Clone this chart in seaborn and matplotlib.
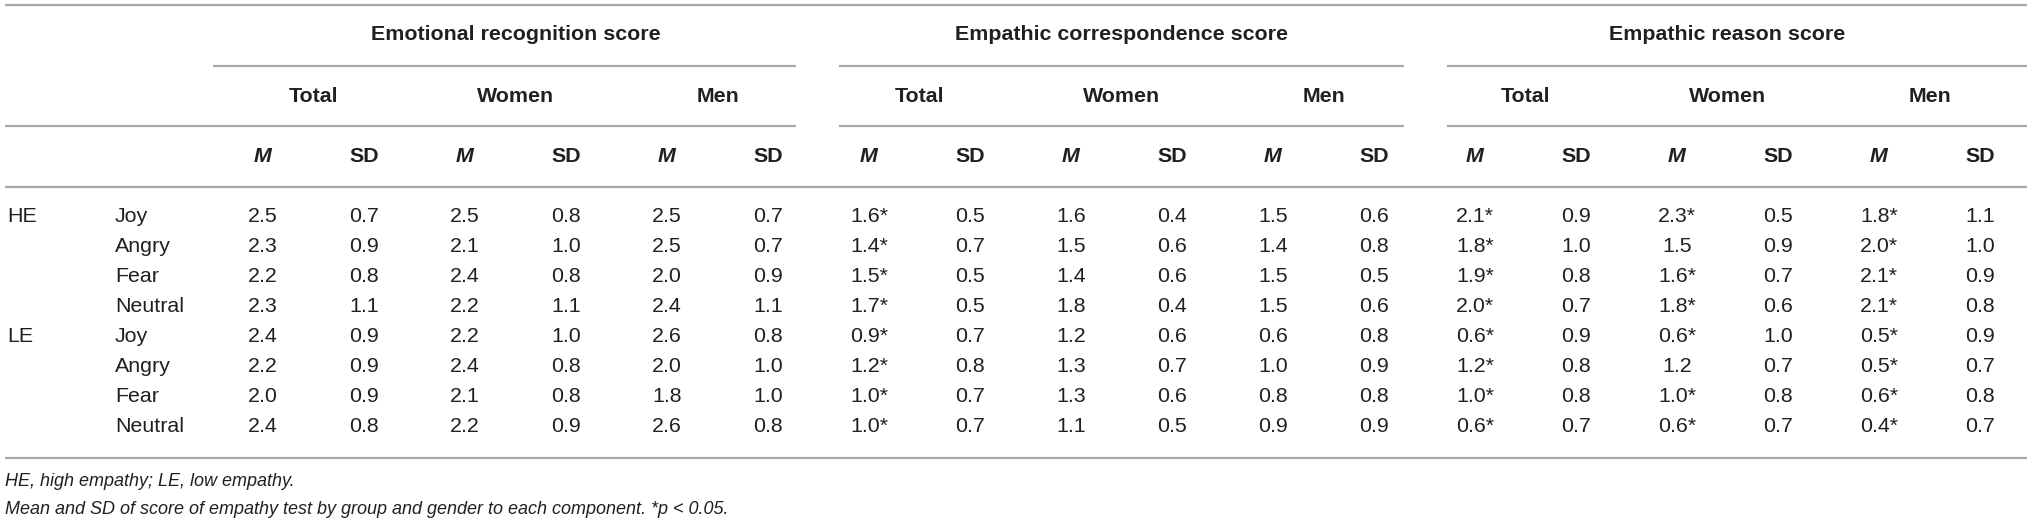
import numpy as np
import pandas as pd
import matplotlib.pyplot as plt
import seaborn as sns
from matplotlib.colors import ListedColormap

# CONFIG
sns.set_theme(style="white")
plt.rcParams["font.family"] = ["Liberation Sans", "DejaVu Sans"]
TXT = "#231f20"
LINE = "#a7a9ac"
FS = 15.4

# DATA
components = ["Emotional recognition score", "Empathic correspondence score", "Empathic reason score"]
genders = ["Total", "Women", "Men"]
stats = ["M", "SD"]
groups = ["HE", "LE"]
emotions = ["Joy", "Angry", "Fear", "Neutral"]

# columns: Total M, Total SD, Women M, Women SD, Men M, Men SD
recognition = [
    [2.5, 0.7, 2.5, 0.8, 2.5, 0.7],
    [2.3, 0.9, 2.1, 1.0, 2.5, 0.7],
    [2.2, 0.8, 2.4, 0.8, 2.0, 0.9],
    [2.3, 1.1, 2.2, 1.1, 2.4, 1.1],
    [2.4, 0.9, 2.2, 1.0, 2.6, 0.8],
    [2.2, 0.9, 2.4, 0.8, 2.0, 1.0],
    [2.0, 0.9, 2.1, 0.8, 1.8, 1.0],
    [2.4, 0.8, 2.2, 0.9, 2.6, 0.8],
]
correspondence = [
    [1.6, 0.5, 1.6, 0.4, 1.5, 0.6],
    [1.4, 0.7, 1.5, 0.6, 1.4, 0.8],
    [1.5, 0.5, 1.4, 0.6, 1.5, 0.5],
    [1.7, 0.5, 1.8, 0.4, 1.5, 0.6],
    [0.9, 0.7, 1.2, 0.6, 0.6, 0.8],
    [1.2, 0.8, 1.3, 0.7, 1.0, 0.9],
    [1.0, 0.7, 1.3, 0.6, 0.8, 0.8],
    [1.0, 0.7, 1.1, 0.5, 0.9, 0.9],
]
reason = [
    [2.1, 0.9, 2.3, 0.5, 1.8, 1.1],
    [1.8, 1.0, 1.5, 0.9, 2.0, 1.0],
    [1.9, 0.8, 1.6, 0.7, 2.1, 0.9],
    [2.0, 0.7, 1.8, 0.6, 2.1, 0.8],
    [0.6, 0.9, 0.6, 1.0, 0.5, 0.9],
    [1.2, 0.8, 1.2, 0.7, 0.5, 0.7],
    [1.0, 0.8, 1.0, 0.8, 0.6, 0.8],
    [0.6, 0.7, 0.6, 0.7, 0.4, 0.7],
]
# significance (*p < 0.05) flags for the M columns (Total, Women, Men)
recognition_sig = [[0, 0, 0]] * 8
correspondence_sig = [[1, 0, 0]] * 8
reason_sig = [
    [1, 1, 1], [1, 0, 1], [1, 1, 1], [1, 1, 1],
    [1, 1, 1], [1, 0, 1], [1, 1, 1], [1, 1, 1],
]
footnotes = [
    "HE, high empathy; LE, low empathy.",
    "Mean and SD of score of empathy test by group and gender to each component. *p < 0.05.",
]

# BUILD TABLE
values = np.hstack([np.array(recognition), np.array(correspondence), np.array(reason)])
cols = pd.MultiIndex.from_product([components, genders, stats])
rows = pd.MultiIndex.from_product([groups, emotions])
df = pd.DataFrame(values, index=rows, columns=cols)

annot = np.empty(df.shape, dtype=object)
for b, sig in enumerate([recognition_sig, correspondence_sig, reason_sig]):
    for r in range(len(df)):
        for g in range(3):
            for s in range(2):
                j = b * 6 + g * 2 + s
                txt = f"{df.iat[r, j]:.1f}"
                if s == 0 and sig[r][g]:
                    txt += "*"
                annot[r, j] = txt

# FIGURE (pixel layout of the table)
W, H = 2032, 524
fig = plt.figure(figsize=(W / 100, H / 100), dpi=100)
fig.patch.set_facecolor("white")
cw, rh = 101, 30
left, top = 212.5, 202
ax = fig.add_axes([left / W, 1 - (top + 8 * rh) / H, 18 * cw / W, 8 * rh / H])

sns.heatmap(df, ax=ax, cmap=ListedColormap(["white"]), cbar=False,
            annot=annot, fmt="", annot_kws={"fontsize": FS, "color": TXT})
ax.set_xticks([])
ax.set_yticks([])
ax.set_xlabel("")
ax.set_ylabel("")


def px(x):
    return (x - left) / cw


def py(y):
    return (y - top) / rh


def hline(y, x0, x1):
    ax.plot([x0, x1], [y, y], color=LINE, lw=1.6, clip_on=False, solid_capstyle="butt")


x_start, x_end = px(5), px(2027)
hline(py(5), x_start, x_end)
hline(py(187), x_start, x_end)
hline(py(458), x_start, x_end)

seg = [(0.0, 5.78), (6.2, 11.8), (12.22, x_end)]
for b, comp in enumerate(components):
    s0, s1 = seg[b]
    hline(py(66), s0, s1)
    hline(py(126), x_start if b == 0 else s0, s1)
    ax.text(b * 6 + 3, py(35), comp, ha="center", va="center",
            fontsize=FS, fontweight="bold", color=TXT)
    for g, gen in enumerate(genders):
        ax.text(b * 6 + g * 2 + 1, py(97), gen, ha="center", va="center",
                fontsize=FS, fontweight="bold", color=TXT)
        ax.text(b * 6 + g * 2 + 0.5, py(157), "M", ha="center", va="center",
                fontsize=FS, fontweight="bold", fontstyle="italic", color=TXT)
        ax.text(b * 6 + g * 2 + 1.5, py(157), "SD", ha="center", va="center",
                fontsize=FS, fontweight="bold", color=TXT)

for i, grp in enumerate(groups):
    ax.text(px(7), i * 4 + 0.5, grp, ha="left", va="center", fontsize=FS, color=TXT)
    for k, emo in enumerate(emotions):
        ax.text(px(115), i * 4 + k + 0.5, emo, ha="left", va="center", fontsize=FS, color=TXT)

ax.text(px(5), py(482), footnotes[0], ha="left", va="center",
        fontsize=13, fontstyle="italic", color=TXT)
ax.text(px(5), py(510), footnotes[1], ha="left", va="center",
        fontsize=13, fontstyle="italic", color=TXT)

fig.savefig("out.png", dpi=100, facecolor="white")
